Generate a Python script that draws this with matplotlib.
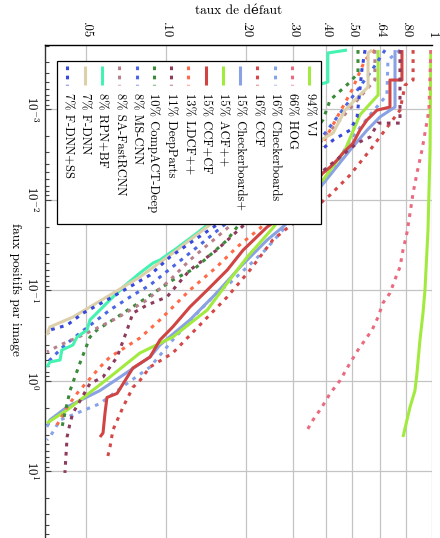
import matplotlib
matplotlib.use("Agg")
import matplotlib.pyplot as plt
from matplotlib.patches import Rectangle
from matplotlib.ticker import FixedLocator, FixedFormatter, NullFormatter

plt.rcParams['font.family'] = ['cmr10', 'DejaVu Serif']
plt.rcParams['mathtext.fontset'] = 'cm'
plt.rcParams['axes.unicode_minus'] = False

# axis ticks
mr_ticks = [0.05, 0.10, 0.20, 0.30, 0.40, 0.50, 0.64, 0.80, 1.0]
mr_tick_labels = ['.05', '.10', '.20', '.30', '.40', '.50', '.64', '.80', '1']
fppi_ticks = [1e-3, 1e-2, 1e-1, 1e0, 1e1]
fppi_tick_labels = [r'$10^{-3}$', r'$10^{-2}$', r'$10^{-1}$', r'$10^{0}$', r'$10^{1}$']

# methods, log-average miss rate (%)
methods = ['VJ', 'HOG', 'Checkerboards', 'CCF', 'Checkerboards+', 'ACF++', 'CCF+CF',
           'LDCF++', 'DeepParts', 'CompACT-Deep', 'MS-CNN', 'SA-FastRCNN', 'RPN+BF',
           'F-DNN', 'F-DNN+SS']
lamr = [94, 66, 16, 16, 15, 15, 15, 13, 11, 10, 8, 8, 8, 7, 7]

# miss rate vs. false positives per image
vj_fppi = [2.23e-4, 2.84e-3, 2.17e-2, 0.1, 0.180, 0.357, 0.826, 1.29, 1.96, 4.21]
vj_mr = [0.99, 0.983, 0.966, 0.941, 0.925, 0.901, 0.878, 0.863, 0.827, 0.778]

hog_fppi = [2.23e-4, 1.03e-3, 1.84e-3, 2.84e-3, 5.09e-3, 8.48e-3, 1.41e-2, 2.34e-2, 3.62e-2,
            5.57e-2, 7.18e-2, 0.108, 0.139, 0.199, 0.277, 0.357, 0.460, 0.641, 1.0, 1.39,
            1.96, 2.73, 3.71]
hog_mr = [0.99, 0.974, 0.941, 0.917, 0.878, 0.849, 0.827, 0.805, 0.778, 0.758, 0.732, 0.695,
          0.654, 0.627, 0.595, 0.560, 0.527, 0.492, 0.451, 0.414, 0.386, 0.357, 0.336]

chk_fppi = [2.23e-4, 2.87e-4, 7.0e-4, 1.16e-3, 2.20e-3, 4.72e-3, 6.92e-3, 1.21e-2, 2.17e-2,
            3.62e-2, 5.57e-2, 8.37e-2, 0.108, 0.189, 0.357, 0.710, 1.12, 1.80, 2.29, 2.73,
            4.21, 4.54]
chk_mr = [0.758, 0.683, 0.677, 0.585, 0.492, 0.425, 0.386, 0.319, 0.275, 0.236, 0.202, 0.174,
          0.155, 0.129, 0.106, 0.0871, 0.0701, 0.0565, 0.0463, 0.0400, 0.0366, 0.0357]

ccf_fppi = [2.23e-4, 4.78e-4, 5.43e-4, 1.03e-3, 1.71e-3, 2.84e-3, 5.36e-3, 8.92e-3, 1.37e-2,
            1.96e-2, 2.80e-2, 6.01e-2, 0.119, 0.244, 0.497, 0.710, 1.0, 1.19, 1.96, 3.52,
            5.43, 7.55]
ccf_mr = [0.849, 0.849, 0.792, 0.758, 0.666, 0.585, 0.492, 0.414, 0.348, 0.292, 0.252, 0.207,
          0.170, 0.134, 0.106, 0.0871, 0.0798, 0.0751, 0.0690, 0.0632, 0.0616, 0.0600]

chkp_fppi = [2.23e-4, 9.5e-4, 1.22e-3, 1.71e-3, 2.84e-3, 5.36e-3, 1.01e-2, 2.01e-2, 2.80e-2,
             5.57e-2, 0.108, 0.214, 0.405, 0.550, 1.29, 1.96, 2.73, 3.26]
chkp_mr = [0.726, 0.726, 0.638, 0.570, 0.492, 0.414, 0.348, 0.275, 0.240, 0.190, 0.155, 0.123,
           0.0949, 0.0871, 0.0565, 0.0425, 0.0366, 0.0357]

acf_fppi = [2.23e-4, 7.0e-4, 1.16e-3, 2.84e-3, 6.09e-3, 8.92e-3, 1.37e-2, 2.07e-2, 4.32e-2,
            8.37e-2, 0.166, 0.331, 0.497, 0.914, 1.58, 2.12, 2.95]
acf_mr = [0.627, 0.627, 0.536, 0.471, 0.389, 0.319, 0.280, 0.252, 0.202, 0.170, 0.143, 0.106,
          0.0798, 0.0616, 0.0484, 0.0425, 0.0357]

ccfcf_fppi = [2.23e-4, 4.78e-4, 4.78e-4, 9.5e-4, 1.03e-3, 1.32e-3, 1.71e-3, 2.38e-3, 3.06e-3,
              3.66e-3, 4.38e-3, 5.09e-3, 1.01e-2, 1.60e-2, 2.01e-2, 3.62e-2, 6.01e-2, 0.1,
              0.154, 0.256, 0.357, 0.550, 0.728, 1.39, 1.54, 2.29, 3.80, 4.21]
ccfcf_mr = [0.771, 0.771, 0.695, 0.695, 0.621, 0.570, 0.536, 0.505, 0.463, 0.440, 0.414, 0.389,
            0.319, 0.268, 0.240, 0.195, 0.170, 0.143, 0.123, 0.106, 0.0949, 0.0871, 0.0751,
            0.0655, 0.0600, 0.0590, 0.0580, 0.0565]

ldcf_fppi = [2.23e-4, 2.87e-4, 6.17e-4, 1.71e-3, 4.15e-3, 8.92e-3, 1.37e-2, 2.07e-2, 3.35e-2,
             5.57e-2, 0.1, 0.214, 0.339, 0.550, 0.710, 1.39, 1.96, 2.73, 3.10]
ldcf_mr = [0.610, 0.560, 0.500, 0.414, 0.348, 0.292, 0.257, 0.226, 0.185, 0.155, 0.123, 0.0949,
           0.0798, 0.0616, 0.0565, 0.0463, 0.0425, 0.0400, 0.0389]

dparts_fppi = [2.23e-4, 1.43e-3, 1.43e-3, 2.04e-3, 2.38e-3, 4.15e-3, 7.85e-3, 1.31e-2, 1.87e-2,
               3.62e-2, 6.01e-2, 0.119, 0.147, 0.180, 0.277, 0.550, 0.914, 1.08, 2.29, 2.95,
               4.21, 10.5]
dparts_mr = [0.758, 0.758, 0.627, 0.585, 0.523, 0.414, 0.319, 0.246, 0.198, 0.155, 0.123, 0.1009,
             0.0848, 0.0751, 0.0714, 0.0655, 0.0580, 0.0518, 0.0447, 0.0436, 0.0425, 0.0417]

compact_fppi = [2.23e-4, 4.0e-4, 5.03e-4, 7.96e-4, 1.32e-3, 2.84e-3, 7.85e-3, 1.37e-2, 2.01e-2,
                2.80e-2, 5.71e-2, 7.76e-2, 0.136, 0.199, 0.277, 0.331, 0.641, 1.29, 2.29, 3.35]
compact_mr = [0.527, 0.527, 0.492, 0.414, 0.389, 0.319, 0.246, 0.207, 0.185, 0.170, 0.129, 0.106,
              0.0798, 0.0655, 0.0550, 0.0518, 0.0475, 0.0436, 0.0417, 0.0406]

mscnn_fppi = [2.23e-4, 3.71e-4, 7.96e-4, 2.20e-3, 6.92e-3, 1.87e-2, 3.18e-2, 5.29e-2, 8.81e-2,
              0.114, 0.166, 0.299, 0.405, 0.593, 0.625]
mscnn_mr = [0.666, 0.595, 0.492, 0.379, 0.268, 0.167, 0.134, 0.108, 0.0871, 0.0751, 0.0616,
            0.0475, 0.0417, 0.0366, 0.0354]

safast_fppi = [2.23e-4, 4.78e-4, 1.32e-3, 4.15e-3, 1.15e-2, 1.96e-2, 4.66e-2, 7.76e-2, 0.129,
               0.204, 0.314, 0.405, 0.484]
safast_mr = [0.610, 0.610, 0.451, 0.319, 0.226, 0.174, 0.123, 0.1035, 0.0848, 0.0655, 0.0488,
             0.0400, 0.0357]

rpn_fppi = [2.23e-4, 2.40e-4, 5.03e-4, 5.29e-4, 1.03e-3, 3.66e-3, 1.01e-2, 1.91e-2, 2.34e-2,
            3.44e-2, 4.66e-2, 5.03e-2, 6.49e-2, 9.27e-2, 0.139, 0.214, 0.277, 0.331, 0.405,
            0.460, 0.593, 0.625, 0.710]
rpn_mr = [0.479, 0.406, 0.406, 0.383, 0.319, 0.226, 0.174, 0.143, 0.131, 0.110, 0.0949, 0.0894,
          0.0798, 0.0690, 0.0600, 0.0518, 0.0505, 0.0463, 0.0447, 0.0406, 0.0400, 0.0366, 0.0357]

fdnn_fppi = [2.23e-4, 2.40e-4, 5.71e-4, 7.96e-4, 1.03e-3, 1.84e-3, 2.20e-3, 5.36e-3, 1.15e-2,
             1.91e-2, 2.80e-2, 3.90e-2, 7.18e-2, 0.119, 0.199, 0.256, 0.314]
fdnn_mr = [0.595, 0.575, 0.575, 0.513, 0.471, 0.425, 0.383, 0.268, 0.190, 0.146, 0.123, 0.1062,
           0.0798, 0.0600, 0.0447, 0.0366, 0.0357]

fdnnss_fppi = [2.23e-4, 3.71e-4, 1.22e-3, 1.71e-3, 2.20e-3, 2.84e-3, 6.92e-3, 1.31e-2, 1.91e-2,
               3.03e-2, 4.32e-2, 6.83e-2, 8.81e-2, 0.129, 0.180, 0.244, 0.277, 0.299]
fdnnss_mr = [0.560, 0.545, 0.523, 0.492, 0.425, 0.383, 0.268, 0.198, 0.155, 0.123, 0.1035,
             0.0871, 0.0751, 0.0600, 0.0488, 0.0425, 0.0366, 0.0360]

curves = [
    (vj_fppi, vj_mr, '#a3ea3f', '-'),
    (hog_fppi, hog_mr, '#ea6a80', ':'),
    (chk_fppi, chk_mr, '#86a3ea', ':'),
    (ccf_fppi, ccf_mr, '#d44848', ':'),
    (chkp_fppi, chkp_mr, '#8aa2e4', '-'),
    (acf_fppi, acf_mr, '#a3ea3f', '-'),
    (ccfcf_fppi, ccfcf_mr, '#d04444', '-'),
    (ldcf_fppi, ldcf_mr, '#ff6a48', ':'),
    (dparts_fppi, dparts_mr, '#8e3a5c', ':'),
    (compact_fppi, compact_mr, '#3a8a3a', ':'),
    (mscnn_fppi, mscnn_mr, '#4a66e2', ':'),
    (safast_fppi, safast_mr, '#b8808c', ':'),
    (rpn_fppi, rpn_mr, '#44f2b2', '-'),
    (fdnn_fppi, fdnn_mr, '#dcd0aa', '-'),
    (fdnnss_fppi, fdnnss_mr, '#3848dc', ':'),
]

dot = (0, (1.2, 1.8))

fig = plt.figure(figsize=(4.40, 5.38), dpi=100)
ax = fig.add_axes([45 / 440, 0.0, 387 / 440, 493 / 538])

for fppi, mr, color, ls in curves:
    ax.plot(mr, fppi, color=color, lw=2.2,
            linestyle=dot if ls == ':' else '-', solid_capstyle='butt',
            dash_capstyle='butt', zorder=3)

ax.set_xscale('log')
ax.set_yscale('log')
ax.set_xlim(0.0351, 1.0)
ax.set_ylim(55.0, 1.96e-4)

ax.xaxis.tick_top()
ax.xaxis.set_major_locator(FixedLocator(mr_ticks))
ax.xaxis.set_major_formatter(FixedFormatter(mr_tick_labels))
ax.xaxis.set_minor_locator(FixedLocator([]))
ax.tick_params(axis='x', which='major', length=0, pad=4.5, labelsize=9.2,
               labelrotation=270)
for lbl in ax.get_xticklabels():
    lbl.set_ha('center')
    lbl.set_va('bottom')

ax.yaxis.set_major_locator(FixedLocator(fppi_ticks))
ax.yaxis.set_major_formatter(FixedFormatter(fppi_tick_labels))
minor = [m * 10.0 ** e for e in range(-4, 2) for m in range(2, 10)]
ax.yaxis.set_minor_locator(FixedLocator(minor))
ax.yaxis.set_minor_formatter(NullFormatter())
ax.tick_params(axis='y', which='major', direction='in', length=4, width=0.8,
               color='#444444', pad=4.5, labelsize=9.2, labelrotation=270)
ax.tick_params(axis='y', which='minor', direction='in', length=3, width=0.8,
               color='#444444')
for lbl in ax.get_yticklabels():
    lbl.set_ha('right')
    lbl.set_va('center')

ax.grid(True, which='major', color='#c4c4c4', lw=0.9)
ax.set_axisbelow(True)
for side in ('right', 'bottom'):
    ax.spines[side].set_visible(False)
ax.spines['top'].set_linewidth(1.0)
ax.spines['left'].set_linewidth(1.0)
ax.spines['left'].set_color('#333333')

fig.text(238.5 / 440, 1 - 11 / 538, 'taux de défaut', ha='center', va='center',
         fontsize=9.6)
fig.text(15 / 440, 1 - 289 / 538, 'faux positifs par image', ha='center', va='center',
         rotation=270, fontsize=9.6)

# legend, laid out in axes fractions (entries run right to left)
ax.add_patch(Rectangle((0.031, 0.637), 0.682, 0.3305, transform=ax.transAxes,
                       facecolor='white', edgecolor='black', lw=0.9, zorder=5))
x0, dx = 0.683, 0.04465
for i, (name, pct, (_, _, color, ls)) in enumerate(zip(methods, lamr, curves)):
    xi = x0 - i * dx
    ax.plot([xi, xi], [0.9574, 0.9189], transform=ax.transAxes, color=color, lw=2.2,
            linestyle=dot if ls == ':' else '-', solid_capstyle='butt',
            dash_capstyle='butt', zorder=6, clip_on=False)
    ax.text(xi, 0.9026, f'{pct}% {name}', transform=ax.transAxes, rotation=270,
            ha='center', va='top', fontsize=9.0, zorder=6)

fig.savefig('out.png', dpi=100)
